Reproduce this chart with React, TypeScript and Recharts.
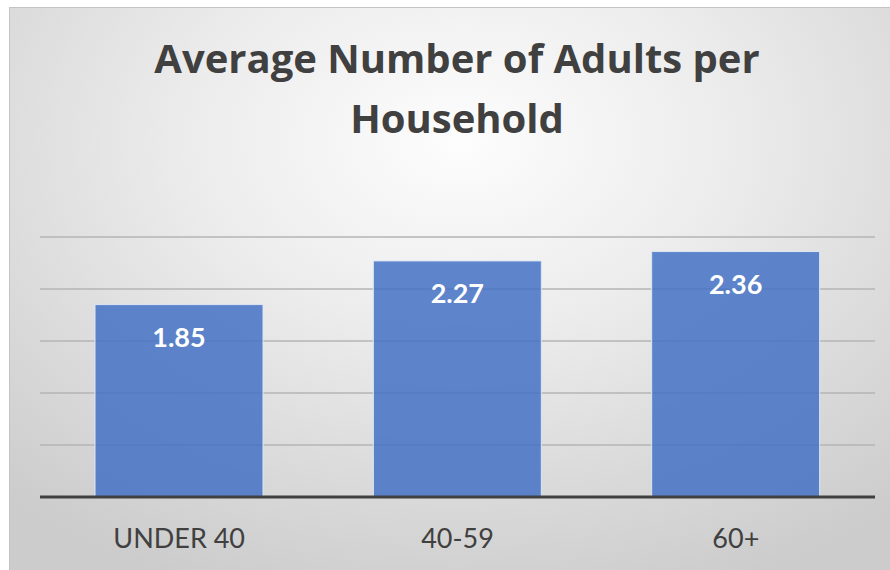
import { BarChart, Bar, XAxis, YAxis, CartesianGrid, LabelList } from "recharts";

const categories = ["UNDER 40", "40-59", "60+"];
const adults = [1.85, 2.27, 2.36];
const yTicks = [0, 0.5, 1, 1.5, 2, 2.5];

const data = categories.map((c, i) => ({ group: c, adults: adults[i] }));

const FONT = "Lato, 'Open Sans', sans-serif";

function ValueLabel(props: any) {
  const { x, y, width, value } = props;
  return (
    <text
      x={x + width / 2}
      y={y + 42}
      textAnchor="middle"
      fill="#ffffff"
      fontFamily={FONT}
      fontWeight={700}
      fontSize={27}
    >
      {Number(value).toFixed(2)}
    </text>
  );
}

export default function App() {
  return (
    <div style={{ position: "absolute", left: 0, top: 0, width: 890, height: 570, overflow: "hidden" }}>
      <style>{"body{margin:0;overflow:hidden}"}</style>
      <div
        style={{
          position: "absolute",
          left: 9,
          top: 7,
          width: 900,
          height: 600,
          border: "1px solid #c4c4c4",
          background:
            "radial-gradient(ellipse 75% 80% at 50% 22%, #fdfdfd 0%, #ececec 40%, #d9d9d9 75%, #cccccc 100%)",
        }}
      />
      <div
        style={{
          position: "absolute",
          left: 0,
          top: 28,
          width: 914,
          textAlign: "center",
          fontFamily: "'Open Sans', sans-serif",
          fontWeight: 700,
          fontSize: 40,
          lineHeight: "60px",
          color: "#404040",
        }}
      >
        Average Number of Adults per
        <br />
        Household
      </div>
      <div style={{ position: "absolute", left: 0, top: 0 }}>
        <BarChart
          width={890}
          height={570}
          data={data}
          margin={{ top: 237, right: 15, bottom: 43, left: 40 }}
        >
          <CartesianGrid vertical={false} stroke="#b5b5b5" strokeWidth={1.5} />
          <YAxis hide domain={[0, 2.5]} ticks={yTicks} />
          <XAxis
            dataKey="group"
            axisLine={{ stroke: "#404040", strokeWidth: 3 }}
            tickLine={false}
            tick={{ fill: "#404040", fontSize: 27, fontFamily: FONT }}
            tickMargin={26}
          />
          <Bar
            dataKey="adults"
            fill="#4472C4"
            fillOpacity={0.85}
            stroke="#dfe6f3"
            strokeWidth={1}
            barSize={168}
            isAnimationActive={false}
          >
            <LabelList dataKey="adults" content={ValueLabel} />
          </Bar>
        </BarChart>
      </div>
    </div>
  );
}
